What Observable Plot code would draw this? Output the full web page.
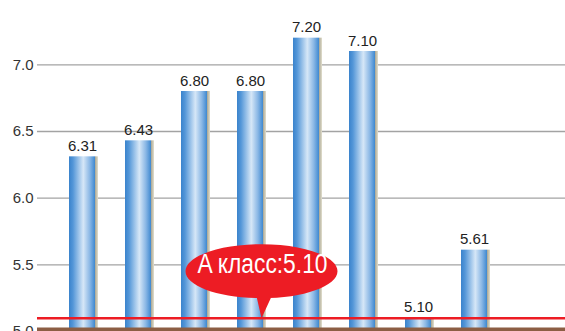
<!DOCTYPE html>
<html><head><meta charset="utf-8">
<script src="https://cdn.jsdelivr.net/npm/d3@7"></script>
<script src="https://cdn.jsdelivr.net/npm/@observablehq/plot@0.6"></script>
<style>body{margin:0;background:#fff} svg{display:block}</style>
</head><body><div id="chart"></div>
<script>
const categories = ["1","2","3","4","5","6","7","8"];
const values = [6.31, 6.43, 6.80, 6.80, 7.20, 7.10, 5.10, 5.61];
const yTicks = [5.0, 5.5, 6.0, 6.5, 7.0];
const classValue = 5.10;
const classLabel = "A класс:5.10";
const classCategory = "4";

const data = categories.map((c, i) => ({c, v: values[i]}));
const callout = [{c: classCategory, v: classValue}];

const calloutSymbol = {
  draw(ctx) {
    const cx = 0, cy = -47, rx = 76, ry = 27, k = 0.5523;
    ctx.moveTo(cx + rx, cy);
    ctx.bezierCurveTo(cx + rx, cy + k * ry, cx + k * rx, cy + ry, cx, cy + ry);
    ctx.bezierCurveTo(cx - k * rx, cy + ry, cx - rx, cy + k * ry, cx - rx, cy);
    ctx.bezierCurveTo(cx - rx, cy - k * ry, cx - k * rx, cy - ry, cx, cy - ry);
    ctx.bezierCurveTo(cx + k * rx, cy - ry, cx + rx, cy - k * ry, cx + rx, cy);
    ctx.closePath();
    ctx.moveTo(12, -26); ctx.lineTo(0, 0); ctx.lineTo(-5, -22); ctx.closePath();
  }
};

const font = "'Liberation Sans', Arial, sans-serif";

const svg = Plot.plot({
  width: 565,
  height: 331,
  marginLeft: 37,
  marginRight: 0,
  marginTop: 0,
  marginBottom: 0,
  style: {fontSize: "15px", fontFamily: font, color: "#333", background: "#fff", overflow: "visible"},
  x: {type: "band", domain: categories, range: [54, 502], padding: 0, axis: null},
  y: {domain: [5, 7.4825], ticks: yTicks, tickFormat: d3.format(".1f"), tickSize: 0, tickPadding: 4, label: null},
  marks: [
    Plot.ruleY(yTicks, {stroke: "#a3a3a3", strokeWidth: 1.3}),
    Plot.barY(data, {x: "c", y1: 5, y2: "v", fill: "url(#shadowGrad)", insetLeft: 41, insetRight: 12}),
    Plot.barY(data, {x: "c", y1: 5, y2: "v", fill: "url(#barGrad)", insetLeft: 15, insetRight: 15}),
    Plot.text(data, {x: "c", y: "v", text: d => d.v.toFixed(2), lineAnchor: "bottom", dy: -6, fontSize: 15, fill: "#222"}),
    Plot.ruleY([classValue], {stroke: "#ed1c24", strokeWidth: 2.5}),
    Plot.ruleY([5], {stroke: "#8c5e44", strokeWidth: 4, dy: -2}),
    Plot.dot(callout, {x: "c", y: "v", symbol: calloutSymbol, r: 10, fill: "#ed1c24", stroke: "none", dx: 11}),
    Plot.text(callout, {x: "c", y: "v", text: () => classLabel, dx: 12, dy: -54, fill: "#fff", fontSize: 27, className: "callout-text"})
  ]
});

const defs = d3.select(svg).insert("defs", ":first-child");
const g1 = defs.append("linearGradient").attr("id", "barGrad").attr("x1", "0").attr("x2", "1").attr("y1", "0").attr("y2", "0");
[["0%", "#3a83cc"], ["15%", "#5396d8"], ["55%", "#d6e7f7"], ["80%", "#8ab7e5"], ["100%", "#3e88d0"]]
  .forEach(([o, c]) => g1.append("stop").attr("offset", o).attr("stop-color", c));
const g2 = defs.append("linearGradient").attr("id", "shadowGrad").attr("x1", "0").attr("x2", "1").attr("y1", "0").attr("y2", "0");
[["0%", "#a9a592"], ["100%", "#e2dfce"]]
  .forEach(([o, c]) => g2.append("stop").attr("offset", o).attr("stop-color", c));

d3.select(svg).selectAll(".callout-text text")
  .attr("textLength", 130).attr("lengthAdjust", "spacingAndGlyphs");

document.getElementById("chart").appendChild(svg);
</script>
</body></html>
